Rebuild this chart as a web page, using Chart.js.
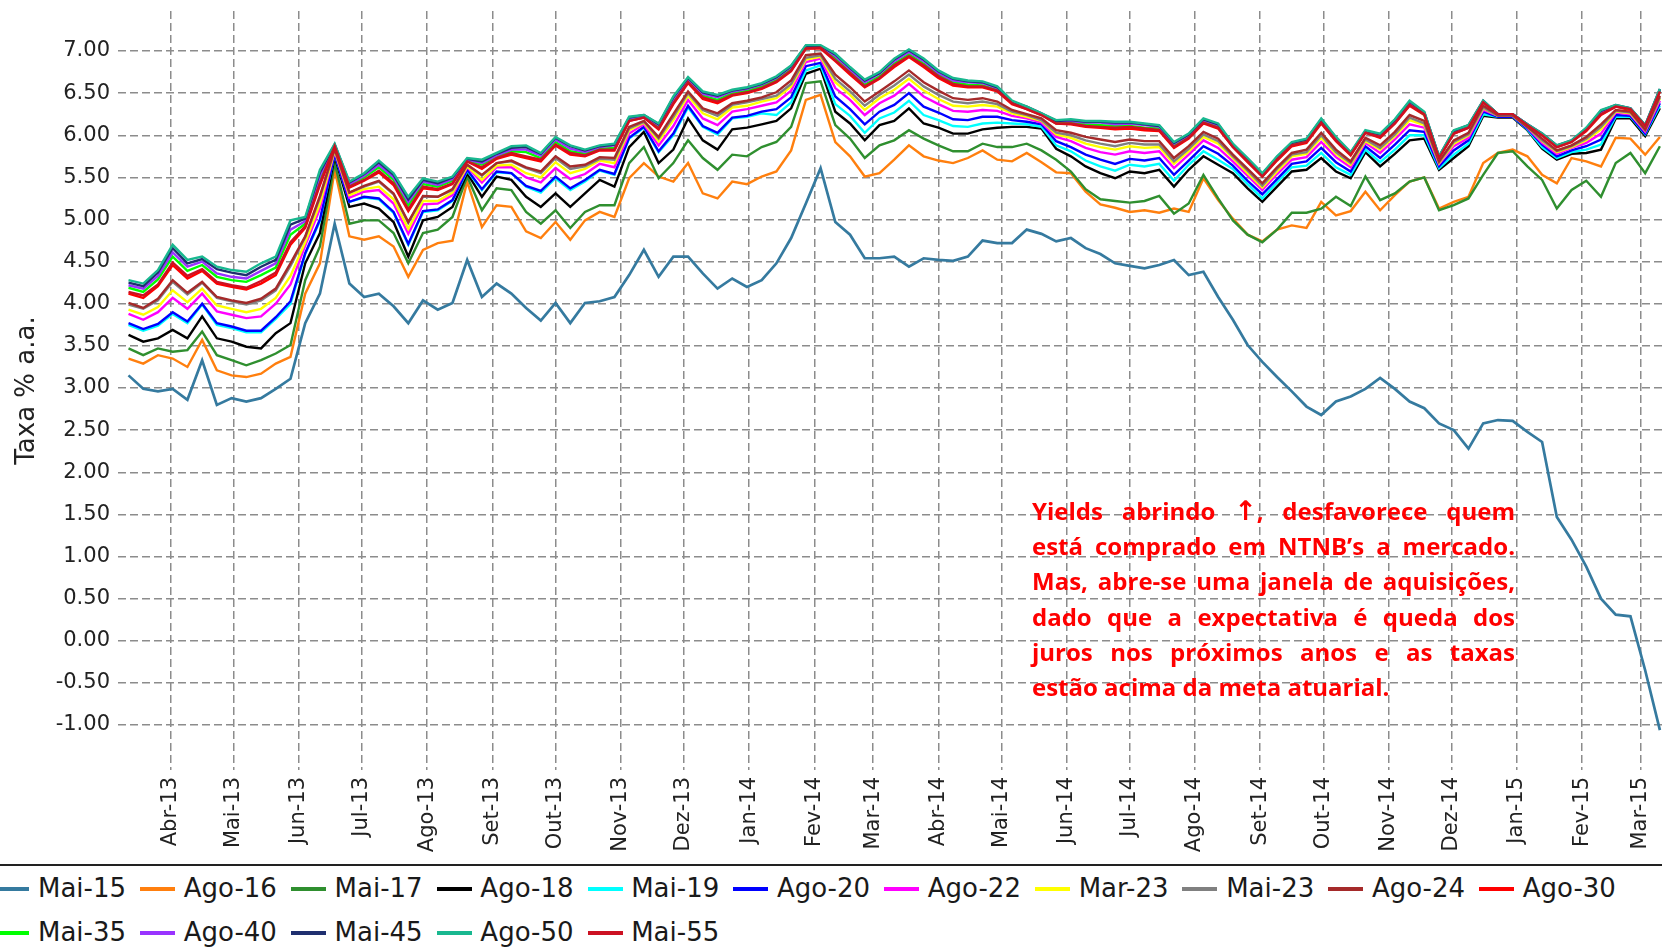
<!DOCTYPE html>
<html>
<head>
<meta charset="utf-8">
<script src="https://cdn.jsdelivr.net/npm/chart.js@4.4.1/dist/chart.umd.min.js"></script>
<style>
    html, body { margin: 0; padding: 0; background: #fff; overflow: hidden; }
    #wrap { position: relative; width: 1662px; height: 952px; overflow: hidden; }
    #chart { position: absolute; left: 0; top: 0; }
    .rule { position: absolute; left: 0; top: 864px; width: 1662px; height: 2px; background: #222; }
    #legend {
        position: absolute; left: -5.7px; top: 867px; width: 1667px;
        display: flex; flex-wrap: wrap;
        font-family: 'DejaVu Sans'; font-size: 26px; line-height: 43.7px; color: #1a1a1a;
    }
    #legend .item { display: inline-flex; align-items: center; margin-right: 14px; white-space: nowrap; }
    #legend .swatch { display: inline-block; width: 35px; height: 4px; margin-right: 8.7px; }
    .note {
        position: absolute; left: 1032px; top: 493px; width: 483px;
        color: #ff0000; font-family: 'Open Sans'; font-weight: 700; font-size: 24px; line-height: 35.2px;
    }
    .note div { text-align: justify; text-align-last: justify; }
    .note div.last { text-align: left; text-align-last: left; }
    .note .arrow { font-family: 'DejaVu Sans'; font-weight: 700; font-size: 27px; }
</style>
</head>
<body>
<div id="wrap">
    <canvas id="chart" width="1662" height="860"></canvas>
    <div class="note">
        <div>Yields abrindo <span class="arrow">↑</span>, desfavorece quem</div>
        <div>está comprado em NTNB’s a mercado.</div>
        <div>Mas, abre-se uma janela de aquisições,</div>
        <div>dado que a expectativa é queda dos</div>
        <div>juros nos próximos anos e as taxas</div>
        <div class="last">estão acima da meta atuarial.</div>
    </div>
    <div class="rule"></div>
    <div id="legend"></div>
</div>
<script>
// weekly sample dates
const DATES = [
    '2013-03-12', '2013-03-19', '2013-03-26', '2013-04-02', '2013-04-09', '2013-04-16', '2013-04-23', '2013-04-30',
    '2013-05-07', '2013-05-14', '2013-05-21', '2013-05-28', '2013-06-04', '2013-06-11', '2013-06-18', '2013-06-25',
    '2013-07-02', '2013-07-09', '2013-07-16', '2013-07-23', '2013-07-30', '2013-08-06', '2013-08-13', '2013-08-20',
    '2013-08-27', '2013-09-03', '2013-09-10', '2013-09-17', '2013-09-24', '2013-10-01', '2013-10-08', '2013-10-15',
    '2013-10-22', '2013-10-29', '2013-11-05', '2013-11-12', '2013-11-19', '2013-11-26', '2013-12-03', '2013-12-10',
    '2013-12-17', '2013-12-24', '2013-12-31', '2014-01-07', '2014-01-14', '2014-01-21', '2014-01-28', '2014-02-04',
    '2014-02-11', '2014-02-18', '2014-02-25', '2014-03-04', '2014-03-11', '2014-03-18', '2014-03-25', '2014-04-01',
    '2014-04-08', '2014-04-15', '2014-04-22', '2014-04-29', '2014-05-06', '2014-05-13', '2014-05-20', '2014-05-27',
    '2014-06-03', '2014-06-10', '2014-06-17', '2014-06-24', '2014-07-01', '2014-07-08', '2014-07-15', '2014-07-22',
    '2014-07-29', '2014-08-05', '2014-08-12', '2014-08-19', '2014-08-26', '2014-09-02', '2014-09-09', '2014-09-16',
    '2014-09-23', '2014-09-30', '2014-10-07', '2014-10-14', '2014-10-21', '2014-10-28', '2014-11-04', '2014-11-11',
    '2014-11-18', '2014-11-25', '2014-12-02', '2014-12-09', '2014-12-16', '2014-12-23', '2014-12-30', '2015-01-06',
    '2015-01-13', '2015-01-20', '2015-01-27', '2015-02-03', '2015-02-10', '2015-02-17', '2015-02-24', '2015-03-03',
    '2015-03-10'
];

const MONTH_TICKS = [
    '2013-04-01', '2013-05-01', '2013-06-01', '2013-07-01', '2013-08-01', '2013-09-01', '2013-10-01', '2013-11-01',
    '2013-12-01', '2014-01-01', '2014-02-01', '2014-03-01', '2014-04-01', '2014-05-01', '2014-06-01', '2014-07-01',
    '2014-08-01', '2014-09-01', '2014-10-01', '2014-11-01', '2014-12-01', '2015-01-01', '2015-02-01', '2015-03-01'
];
const MONTH_LABELS = [
    'Abr-13', 'Mai-13', 'Jun-13', 'Jul-13', 'Ago-13', 'Set-13', 'Out-13', 'Nov-13',
    'Dez-13', 'Jan-14', 'Fev-14', 'Mar-14', 'Abr-14', 'Mai-14', 'Jun-14', 'Jul-14',
    'Ago-14', 'Set-14', 'Out-14', 'Nov-14', 'Dez-14', 'Jan-15', 'Fev-15', 'Mar-15'
];
const X_FIRST = '2013-03-07';
const X_LAST = '2015-03-11';

const Y_TICKS = [-1.0, -0.5, 0.0, 0.5, 1.0, 1.5, 2.0, 2.5, 3.0, 3.5, 4.0, 4.5, 5.0, 5.5, 6.0, 6.5, 7.0];
const Y_MIN = -1.534;
const Y_MAX = 7.475;

const SERIES_NAMES = ['Mai-15', 'Ago-16', 'Mai-17', 'Ago-18', 'Mai-19', 'Ago-20', 'Ago-22', 'Mar-23',
    'Mai-23', 'Ago-24', 'Ago-30', 'Mai-35', 'Ago-40', 'Mai-45', 'Ago-50', 'Mai-55'];
const SERIES_COLORS = ['#357a9f', '#ff7f0e', '#2f8f2f', '#000000', '#00ffff', '#0000ff', '#ff00ff', '#ffff00',
    '#808080', '#a52a2a', '#ff0000', '#00ff00', '#9933ff', '#1f2f6f', '#19b890', '#cc1122'];

const MAI_15 = [
    3.15, 2.99, 2.96, 2.99, 2.86, 3.33, 2.80, 2.88, 2.84, 2.88, 2.99, 3.11, 3.77, 4.12, 4.95, 4.24, 4.08, 4.12, 3.97, 3.77,
    4.04, 3.93, 4.01, 4.52, 4.08, 4.24, 4.12, 3.95,
    3.80, 4.01, 3.77, 4.01, 4.03, 4.08, 4.34, 4.64, 4.32, 4.56, 4.56, 4.36, 4.18, 4.30, 4.20, 4.28, 4.48, 4.78, 5.19, 5.61,
    4.97, 4.82, 4.54, 4.54, 4.56, 4.44, 4.54, 4.52,
    4.51, 4.56, 4.75, 4.72, 4.72, 4.88, 4.83, 4.74, 4.78, 4.66, 4.59, 4.48, 4.45, 4.42, 4.46, 4.52, 4.34, 4.38, 4.08, 3.81,
    3.51, 3.31, 3.13, 2.96, 2.78, 2.68, 2.84, 2.90,
    2.99, 3.12, 2.99, 2.84, 2.76, 2.58, 2.50, 2.28, 2.58, 2.62, 2.61, 2.48, 2.36, 1.47, 1.20, 0.88, 0.50, 0.31, 0.29, -0.35,
    -1.06
];
const AGO_16 = [
    3.35, 3.29, 3.39, 3.35, 3.25, 3.57, 3.21, 3.15, 3.13, 3.17, 3.29, 3.37, 4.12, 4.48, 5.59, 4.80, 4.76, 4.80, 4.68, 4.32,
    4.64, 4.72, 4.75, 5.45, 4.91, 5.17, 5.15, 4.86,
    4.78, 4.97, 4.76, 4.99, 5.09, 5.03, 5.49, 5.67, 5.51, 5.45, 5.67, 5.31, 5.25, 5.45, 5.42, 5.51, 5.57, 5.82, 6.42, 6.48,
    5.92, 5.75, 5.51, 5.55, 5.71, 5.88, 5.75, 5.70,
    5.67, 5.73, 5.82, 5.71, 5.69, 5.79, 5.68, 5.56, 5.55, 5.33, 5.18, 5.14, 5.09, 5.11, 5.08, 5.13, 5.09, 5.49, 5.23, 5.01,
    4.82, 4.74, 4.88, 4.93, 4.90, 5.21, 5.05, 5.10,
    5.33, 5.11, 5.29, 5.45, 5.50, 5.13, 5.21, 5.27, 5.67, 5.79, 5.83, 5.75, 5.53, 5.43, 5.73, 5.69, 5.63, 5.97, 5.96, 5.77,
    5.98
];
const MAI_17 = [
    3.47, 3.39, 3.47, 3.43, 3.45, 3.67, 3.39, 3.33, 3.27, 3.33, 3.41, 3.51, 4.28, 4.68, 5.67, 4.95, 4.99, 4.99, 4.84, 4.48,
    4.84, 4.88, 5.03, 5.51, 5.11, 5.37, 5.35, 5.09,
    4.95, 5.11, 4.90, 5.09, 5.17, 5.17, 5.67, 5.86, 5.49, 5.67, 5.94, 5.73, 5.59, 5.77, 5.75, 5.86, 5.92, 6.10, 6.62, 6.64,
    6.12, 5.96, 5.73, 5.88, 5.94, 6.06, 5.96, 5.88,
    5.81, 5.81, 5.90, 5.86, 5.86, 5.90, 5.82, 5.71, 5.57, 5.36, 5.24, 5.22, 5.20, 5.22, 5.28, 5.07, 5.19, 5.53, 5.25, 4.99,
    4.82, 4.73, 4.88, 5.08, 5.08, 5.13, 5.27, 5.16,
    5.51, 5.23, 5.31, 5.45, 5.50, 5.11, 5.17, 5.25, 5.53, 5.79, 5.81, 5.63, 5.47, 5.13, 5.35, 5.46, 5.27, 5.67, 5.79, 5.55,
    5.87
];
const AGO_18 = [
    3.63, 3.55, 3.59, 3.69, 3.59, 3.85, 3.59, 3.55, 3.49, 3.47, 3.65, 3.77, 4.48, 4.84, 5.75, 5.15, 5.19, 5.13, 4.97, 4.56,
    4.99, 5.03, 5.15, 5.55, 5.27, 5.51, 5.47, 5.27,
    5.15, 5.31, 5.15, 5.31, 5.47, 5.39, 5.86, 6.04, 5.67, 5.83, 6.20, 5.94, 5.83, 6.07, 6.09, 6.13, 6.17, 6.32, 6.73, 6.79,
    6.28, 6.14, 5.94, 6.12, 6.17, 6.32, 6.14, 6.09,
    6.02, 6.02, 6.07, 6.09, 6.10, 6.10, 6.08, 5.84, 5.75, 5.63, 5.55, 5.49, 5.57, 5.55, 5.59, 5.39, 5.59, 5.75, 5.65, 5.55,
    5.37, 5.21, 5.39, 5.57, 5.59, 5.73, 5.57, 5.49,
    5.80, 5.63, 5.78, 5.94, 5.96, 5.59, 5.73, 5.87, 6.23, 6.21, 6.21, 6.06, 5.84, 5.71, 5.78, 5.79, 5.83, 6.20, 6.20, 5.99,
    6.32
];
const MAI_19 = [
    3.75, 3.68, 3.74, 3.88, 3.77, 3.99, 3.75, 3.71, 3.66, 3.66, 3.82, 4.00, 4.59, 4.98, 5.78, 5.21, 5.26, 5.24, 5.08, 4.70,
    5.09, 5.11, 5.22, 5.58, 5.35, 5.56, 5.55, 5.39,
    5.32, 5.49, 5.35, 5.45, 5.58, 5.53, 5.96, 6.09, 5.80, 6.00, 6.33, 6.10, 6.01, 6.20, 6.22, 6.26,
    6.24, 6.39, 6.77, 6.83, 6.37, 6.23, 6.03, 6.20, 6.27, 6.41, 6.24, 6.18,
    6.11, 6.10, 6.14, 6.15, 6.14, 6.13, 6.10, 5.88, 5.81, 5.70, 5.63, 5.58, 5.65, 5.63, 5.66, 5.46, 5.65, 5.81, 5.71, 5.60,
    5.42, 5.25, 5.44, 5.62, 5.64, 5.79, 5.62, 5.53,
    5.83, 5.68, 5.83, 6.00, 6.00, 5.61, 5.77, 5.90, 6.25, 6.22, 6.22, 6.07, 5.86, 5.73, 5.80, 5.83, 5.89, 6.22, 6.22, 6.01,
    6.35
];
const AGO_20 = [
    3.77, 3.70, 3.76, 3.90, 3.79, 4.00, 3.77, 3.73, 3.68, 3.68, 3.84, 4.03, 4.60, 5.00, 5.78, 5.21, 5.27, 5.25, 5.09, 4.71,
    5.10, 5.12, 5.23, 5.59, 5.36, 5.57, 5.55, 5.40,
    5.34, 5.51, 5.37, 5.47, 5.59, 5.54, 5.97, 6.10, 5.81, 6.02, 6.35, 6.11, 6.03, 6.21, 6.23, 6.28,
    6.31, 6.45, 6.82, 6.86, 6.46, 6.31, 6.13, 6.28, 6.36, 6.50, 6.34, 6.27,
    6.19, 6.18, 6.22, 6.22, 6.18, 6.16, 6.13, 5.93, 5.86, 5.77, 5.71, 5.66, 5.72, 5.70, 5.73, 5.53, 5.70, 5.87, 5.78, 5.64,
    5.46, 5.30, 5.48, 5.66, 5.69, 5.85, 5.68, 5.57,
    5.87, 5.73, 5.89, 6.06, 6.04, 5.63, 5.82, 5.94, 6.28, 6.22, 6.22, 6.08, 5.89, 5.75, 5.82, 5.87, 5.95, 6.24, 6.23, 6.02,
    6.38
];
const AGO_22 = [
    3.88, 3.81, 3.90, 4.07, 3.94, 4.12, 3.91, 3.87, 3.83, 3.85, 4.00, 4.23, 4.69, 5.13, 5.81, 5.26, 5.33, 5.35, 5.19, 4.83,
    5.18, 5.19, 5.29, 5.62, 5.44, 5.62, 5.62, 5.50,
    5.44, 5.61, 5.48, 5.54, 5.66, 5.62, 6.02, 6.13, 5.88, 6.11, 6.42, 6.20, 6.12, 6.28, 6.31, 6.35,
    6.39, 6.53, 6.87, 6.91, 6.56, 6.42, 6.24, 6.38, 6.47, 6.61, 6.46, 6.37,
    6.29, 6.28, 6.30, 6.29, 6.23, 6.20, 6.15, 5.98, 5.93, 5.85, 5.80, 5.77, 5.81, 5.79, 5.81, 5.61, 5.77, 5.94, 5.85, 5.69,
    5.52, 5.35, 5.54, 5.71, 5.74, 5.92, 5.74, 5.62,
    5.91, 5.79, 5.95, 6.13, 6.09, 5.66, 5.87, 5.97, 6.30, 6.23, 6.23, 6.09, 5.91, 5.78, 5.85, 5.91, 6.02, 6.27, 6.25, 6.04,
    6.41
];
const MAR_23 = [
    3.93, 3.87, 3.96, 4.16, 4.02, 4.18, 3.98, 3.94, 3.90, 3.94, 4.07, 4.33, 4.73, 5.19, 5.82, 5.29, 5.36, 5.39, 5.24, 4.89,
    5.22, 5.22, 5.32, 5.63, 5.47, 5.64, 5.65, 5.55,
    5.50, 5.68, 5.55, 5.60, 5.70, 5.67, 6.06, 6.15, 5.93, 6.18, 6.47, 6.26, 6.19, 6.33, 6.35, 6.40,
    6.44, 6.58, 6.90, 6.93, 6.63, 6.48, 6.30, 6.44, 6.54, 6.67, 6.53, 6.43,
    6.35, 6.34, 6.36, 6.34, 6.26, 6.22, 6.17, 6.01, 5.97, 5.90, 5.86, 5.83, 5.87, 5.85, 5.86, 5.66, 5.81, 5.98, 5.90, 5.73,
    5.55, 5.38, 5.57, 5.75, 5.78, 5.97, 5.78, 5.65,
    5.93, 5.83, 5.99, 6.18, 6.12, 5.67, 5.90, 6.00, 6.32, 6.23, 6.23, 6.10, 5.93, 5.80, 5.86, 5.94, 6.07, 6.28, 6.26, 6.06,
    6.44
];
const MAI_23 = [
    3.99, 3.94, 4.04, 4.26, 4.11, 4.25, 4.07, 4.03, 3.99, 4.04, 4.16, 4.45, 4.79, 5.26, 5.83, 5.32, 5.39, 5.45, 5.30, 4.96,
    5.27, 5.27, 5.35, 5.65, 5.52, 5.67, 5.69, 5.61,
    5.55, 5.73, 5.60, 5.63, 5.72, 5.71, 6.08, 6.16, 5.96, 6.22, 6.50, 6.30, 6.23, 6.36, 6.39, 6.43,
    6.47, 6.61, 6.92, 6.95, 6.67, 6.52, 6.35, 6.48, 6.59, 6.72, 6.58, 6.48,
    6.40, 6.38, 6.40, 6.37, 6.28, 6.24, 6.18, 6.03, 6.00, 5.94, 5.90, 5.87, 5.91, 5.89, 5.89, 5.69, 5.84, 6.01, 5.93, 5.75,
    5.58, 5.40, 5.60, 5.77, 5.80, 6.00, 5.80, 5.67,
    5.95, 5.85, 6.01, 6.21, 6.14, 5.68, 5.92, 6.01, 6.33, 6.23, 6.23, 6.10, 5.94, 5.81, 5.87, 5.96, 6.10, 6.29, 6.27, 6.06,
    6.45
];
const AGO_24 = [
    4.01, 3.95, 4.06, 4.28, 4.13, 4.26, 4.08, 4.04, 4.01, 4.06, 4.18, 4.48, 4.80, 5.28, 5.84, 5.32, 5.40, 5.46, 5.31, 4.97,
    5.28, 5.27, 5.36, 5.65, 5.53, 5.67, 5.70, 5.62,
    5.57, 5.75, 5.63, 5.65, 5.74, 5.73, 6.10, 6.17, 5.98, 6.25, 6.52, 6.32, 6.26, 6.38, 6.41, 6.45,
    6.51, 6.65, 6.95, 6.97, 6.72, 6.57, 6.40, 6.52, 6.64, 6.77, 6.63, 6.53,
    6.44, 6.42, 6.44, 6.40, 6.30, 6.25, 6.20, 6.06, 6.03, 5.98, 5.95, 5.92, 5.95, 5.93, 5.93, 5.73, 5.87, 6.04, 5.96, 5.77,
    5.60, 5.43, 5.62, 5.79, 5.83, 6.03, 5.83, 5.69,
    5.97, 5.88, 6.04, 6.24, 6.17, 5.69, 5.94, 6.03, 6.35, 6.24, 6.24, 6.10, 5.96, 5.82, 5.88, 5.98, 6.13, 6.30, 6.28, 6.07,
    6.47
];
const AGO_30 = [
    4.12, 4.07, 4.21, 4.46, 4.30, 4.39, 4.24, 4.20, 4.17, 4.24, 4.34, 4.70, 4.90, 5.41, 5.86, 5.38, 5.46, 5.56, 5.41, 5.10,
    5.37, 5.35, 5.42, 5.69, 5.60, 5.72, 5.77, 5.73,
    5.69, 5.88, 5.77, 5.75, 5.82, 5.82, 6.17, 6.21, 6.07, 6.37, 6.62, 6.43, 6.38, 6.47, 6.50, 6.55,
    6.63, 6.76, 7.03, 7.03, 6.88, 6.72, 6.57, 6.67, 6.81, 6.93, 6.81, 6.68,
    6.59, 6.57, 6.57, 6.52, 6.37, 6.31, 6.24, 6.14, 6.13, 6.10, 6.09, 6.07, 6.08, 6.06, 6.05, 5.85, 5.96, 6.14, 6.08, 5.86,
    5.68, 5.51, 5.70, 5.87, 5.91, 6.14, 5.93, 5.76,
    6.03, 5.97, 6.14, 6.35, 6.24, 5.73, 6.02, 6.09, 6.39, 6.24, 6.24, 6.12, 6.00, 5.86, 5.92, 6.05, 6.24, 6.34, 6.30, 6.10,
    6.52
];
const MAI_35 = [
    4.19, 4.14, 4.29, 4.56, 4.39, 4.46, 4.32, 4.28, 4.26, 4.34, 4.43, 4.82, 4.95, 5.49, 5.88, 5.41, 5.50, 5.62, 5.47, 5.17,
    5.42, 5.39, 5.46, 5.70, 5.65, 5.75, 5.81, 5.80,
    5.73, 5.92, 5.81, 5.78, 5.84, 5.85, 6.19, 6.22, 6.10, 6.40, 6.65, 6.47, 6.42, 6.50, 6.53, 6.58,
    6.66, 6.79, 7.04, 7.05, 6.92, 6.76, 6.60, 6.70, 6.85, 6.96, 6.85, 6.72,
    6.63, 6.60, 6.59, 6.54, 6.39, 6.32, 6.25, 6.15, 6.16, 6.13, 6.12, 6.11, 6.11, 6.09, 6.08, 5.88, 5.99, 6.16, 6.10, 5.87,
    5.70, 5.52, 5.72, 5.89, 5.93, 6.16, 5.95, 5.78,
    6.04, 5.99, 6.16, 6.37, 6.25, 5.74, 6.03, 6.10, 6.40, 6.25, 6.25, 6.12, 6.01, 5.87, 5.93, 6.07, 6.26, 6.35, 6.31, 6.11,
    6.53
];
const AGO_40 = [
    4.22, 4.18, 4.33, 4.61, 4.44, 4.50, 4.36, 4.32, 4.30, 4.39, 4.48, 4.88, 4.98, 5.52, 5.89, 5.42, 5.52, 5.65, 5.50, 5.21,
    5.45, 5.41, 5.48, 5.71, 5.67, 5.76, 5.83, 5.83,
    5.76, 5.95, 5.84, 5.80, 5.86, 5.88, 6.20, 6.23, 6.12, 6.43, 6.67, 6.49, 6.45, 6.52, 6.55, 6.60,
    6.68, 6.81, 7.06, 7.06, 6.94, 6.78, 6.63, 6.73, 6.88, 6.99, 6.88, 6.74,
    6.65, 6.63, 6.62, 6.56, 6.40, 6.33, 6.25, 6.17, 6.17, 6.15, 6.15, 6.13, 6.14, 6.12, 6.10, 5.90, 6.00, 6.18, 6.12, 5.89,
    5.72, 5.54, 5.74, 5.91, 5.95, 6.18, 5.96, 5.79,
    6.05, 6.00, 6.17, 6.39, 6.27, 5.74, 6.05, 6.11, 6.40, 6.25, 6.25, 6.13, 6.01, 5.87, 5.93, 6.08, 6.28, 6.35, 6.32, 6.11,
    6.54
];
const MAI_45 = [
    4.25, 4.21, 4.37, 4.66, 4.48, 4.53, 4.41, 4.37, 4.34, 4.44, 4.52, 4.94, 5.01, 5.56, 5.89, 5.44, 5.54, 5.68, 5.53, 5.24,
    5.47, 5.43, 5.50, 5.72, 5.69, 5.78, 5.85, 5.86,
    5.78, 5.97, 5.87, 5.82, 5.87, 5.89, 6.21, 6.24, 6.13, 6.45, 6.68, 6.51, 6.47, 6.53, 6.56, 6.61,
    6.69, 6.82, 7.06, 7.06, 6.96, 6.80, 6.65, 6.74, 6.90, 7.01, 6.90, 6.76,
    6.67, 6.64, 6.63, 6.57, 6.40, 6.34, 6.26, 6.17, 6.18, 6.16, 6.16, 6.15, 6.15, 6.13, 6.11, 5.91, 6.01, 6.19, 6.13, 5.89,
    5.72, 5.54, 5.74, 5.91, 5.95, 6.19, 5.97, 5.79,
    6.05, 6.01, 6.18, 6.40, 6.27, 5.75, 6.05, 6.12, 6.41, 6.25, 6.25, 6.13, 6.02, 5.88, 5.94, 6.08, 6.29, 6.36, 6.32, 6.12,
    6.55
];
const AGO_50 = [
    4.28, 4.24, 4.40, 4.70, 4.52, 4.56, 4.44, 4.40, 4.38, 4.48, 4.56, 4.99, 5.03, 5.59, 5.90, 5.45, 5.55, 5.70, 5.55, 5.27,
    5.49, 5.45, 5.51, 5.73, 5.71, 5.79, 5.87, 5.88,
    5.79, 5.98, 5.88, 5.83, 5.88, 5.90, 6.22, 6.24, 6.14, 6.46, 6.69, 6.52, 6.48, 6.54, 6.57, 6.62, 6.70, 6.83, 7.07, 7.07,
    6.97, 6.81, 6.66, 6.75, 6.91, 7.02, 6.91, 6.77,
    6.68, 6.65, 6.64, 6.58, 6.41, 6.34, 6.26, 6.18, 6.19, 6.17, 6.17, 6.16, 6.16, 6.14, 6.12, 5.92, 6.02, 6.20, 6.14, 5.90,
    5.73, 5.55, 5.75, 5.92, 5.96, 6.20, 5.98, 5.80,
    6.06, 6.02, 6.19, 6.41, 6.28, 5.75, 6.06, 6.12, 6.41, 6.25, 6.25, 6.13, 6.02, 5.88, 5.94, 6.09, 6.30, 6.36, 6.32, 6.12,
    6.55
];
const MAI_55 = [
    4.14, 4.10, 4.23, 4.49, 4.33, 4.41, 4.26, 4.22, 4.19, 4.27, 4.37, 4.73, 4.92, 5.43, 5.87, 5.39, 5.47, 5.58, 5.43, 5.12,
    5.39, 5.36, 5.43, 5.69, 5.62, 5.73, 5.79, 5.75,
    5.71, 5.89, 5.79, 5.76, 5.83, 5.83, 6.17, 6.21, 6.08, 6.38, 6.63, 6.45, 6.40, 6.48, 6.51, 6.56,
    6.64, 6.77, 7.03, 7.04, 6.89, 6.74, 6.58, 6.68, 6.83, 6.94, 6.83, 6.70,
    6.61, 6.58, 6.58, 6.53, 6.38, 6.31, 6.24, 6.14, 6.14, 6.11, 6.10, 6.09, 6.10, 6.08, 6.06, 5.86, 5.97, 6.15, 6.09, 5.86,
    5.69, 5.51, 5.71, 5.88, 5.92, 6.15, 5.94, 5.77,
    6.03, 5.98, 6.14, 6.36, 6.25, 5.73, 6.02, 6.09, 6.39, 6.25, 6.25, 6.12, 6.00, 5.86, 5.92, 6.06, 6.25, 6.34, 6.31, 6.11,
    6.52
];

const SERIES_VALUES = [MAI_15, AGO_16, MAI_17, AGO_18, MAI_19, AGO_20, AGO_22, MAR_23,
    MAI_23, AGO_24, AGO_30, MAI_35, AGO_40, MAI_45, AGO_50, MAI_55];

// x axis runs in days counted from 1 Apr 2013
const ORIGIN = Date.UTC(2013, 3, 1);
function dayOf(s) {
    const [y, m, d] = s.split('-').map(Number);
    return (Date.UTC(y, m - 1, d) - ORIGIN) / 86400000;
}
const X_DAYS = DATES.map(dayOf);
const TICK_DAYS = MONTH_TICKS.map(dayOf);

const GRID = { color: '#8c8c8c', lineWidth: 1.5, drawTicks: false };
const BORDER = { display: false, dash: [8, 4] };

Chart.defaults.font.family = "'DejaVu Sans'";
Chart.defaults.color = '#222';

new Chart(document.getElementById('chart'), {
    type: 'line',
    data: {
        datasets: SERIES_NAMES.map((name, i) => ({
            label: name,
            data: SERIES_VALUES[i].map((v, j) => ({ x: X_DAYS[j], y: v })),
            borderColor: SERIES_COLORS[i],
            backgroundColor: SERIES_COLORS[i],
            borderWidth: i === 0 ? 2.7 : 2.4,
            pointRadius: 0,
            tension: 0,
            order: SERIES_NAMES.length - i,
        })),
    },
    options: {
        responsive: false,
        animation: false,
        devicePixelRatio: 1,
        layout: { padding: { top: 11, right: 0, bottom: 0, left: 0 } },
        plugins: { legend: { display: false }, tooltip: { enabled: false } },
        scales: {
            x: {
                type: 'linear',
                min: dayOf(X_FIRST),
                max: dayOf(X_LAST),
                afterBuildTicks: s => { s.ticks = TICK_DAYS.map(v => ({ value: v })); },
                afterFit: s => { s.height = 90; s.paddingLeft = 0; s.paddingRight = 0; },
                ticks: {
                    autoSkip: false, minRotation: 90, maxRotation: 90, padding: 7,
                    font: { size: 21 },
                    callback: (v, i) => MONTH_LABELS[i],
                },
                grid: GRID,
                border: BORDER,
            },
            y: {
                min: Y_MIN,
                max: Y_MAX,
                afterBuildTicks: s => { s.ticks = Y_TICKS.map(v => ({ value: v })); },
                afterFit: s => { s.width = 118; s.paddingTop = 0; s.paddingBottom = 0; },
                ticks: { padding: 8, font: { size: 21 }, callback: v => v.toFixed(2) },
                grid: GRID,
                border: BORDER,
                title: { display: true, text: 'Taxa % a.a.', font: { size: 26 }, padding: { top: 12, bottom: 0 } },
            },
        },
    },
});

// legend below the rule
document.getElementById('legend').innerHTML = SERIES_NAMES.map((n, i) =>
    `<span class="item"><span class="swatch" style="background:${SERIES_COLORS[i]}"></span>${n}</span>`
).join('');
</script>
</body>
</html>
